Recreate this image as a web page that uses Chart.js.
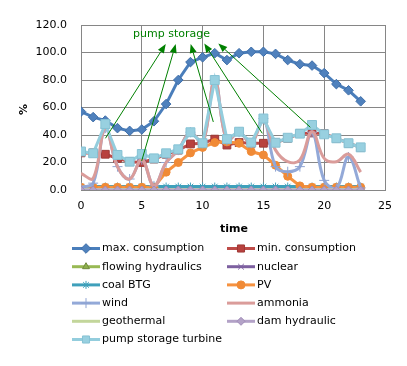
<!DOCTYPE html>
<html>
<head>
<meta charset="utf-8">
<script src="https://cdn.jsdelivr.net/npm/chart.js@4.4.0/dist/chart.umd.min.js"></script>
<style>
  html, body { margin: 0; padding: 0; background: #fff; }
  canvas { display: block; }
</style>
</head>
<body>
<canvas id="chart" width="407" height="366"></canvas>
<script>
// hours of the day
const hours = [0, 1, 2, 3, 4, 5, 6, 7, 8, 9, 10, 11, 12, 13, 14, 15, 16, 17, 18, 19, 20, 21, 22, 23];

// series values (%)
const maxConsumption = [57, 53, 50.5, 45, 43, 44, 50, 62.5, 80, 93, 96.5, 99.5, 94.5, 99.5, 100.5, 100.5, 99, 94.5, 91.5, 90.5, 85, 77, 72.5, 64.5];
const minConsumption = [27, 27, 26, 23, 20.6, 20, 22.5, 26, 29, 33.5, 34, 37, 32.7, 34.5, 34, 34, 34.4, 37.6, 41, 41.5, 41, 37.6, 34, 31];
const flowingHydraulics = [0.5, 0.5, 0.5, 0.5, 0.5, 0.5, 0.5, 0.5, 0.5, 0.5, 0.5, 0.5, 0.5, 0.5, 0.5, 0.5, 0.5, 0.5, 0.5, 0.5, 0.5, 0.5, 0.5, 0.5];
const nuclear = [0, 0, 0, 0, 0, 0, 0, 0, 0, 0, 0, 0, 0, 0, 0, 0, 0, 0, 0, 0, 0, 0, 0, 0];
const coalBTG = [2.5, 2.5, 2.5, 2.5, 2.5, 2.5, 2.5, 2.5, 2.5, 2.5, 2.5, 2.5, 2.5, 2.5, 2.5, 2.5, 2.5, 2.5, 2.5, 2.5, 2.5, 2.5, 2.5, 2.5];
const pv = [2, 2, 2, 2, 2, 2, 2, 13, 20, 27, 31, 34.5, 35, 34, 28, 25.5, 18, 10, 3, 2, 2, 2, 2, 2];
const wind = [2, 5, 45, 17, 8, 22, 3, 20, 29, 42, 34, 80, 36, 42, 34, 52, 17, 13.3, 17, 42, 7, 1, 24, 1.5];
const ammonia = [12, 8.5, 45, 17, 8, 22, 3, 20, 29, 42, 34, 80, 36, 42, 34, 50, 29, 20.6, 21.8, 42.4, 23, 20.6, 26, 13];
const geothermal = [0.3, 0.3, 0.3, 0.3, 0.3, 0.3, 0.3, 0.3, 0.3, 0.3, 0.3, 0.3, 0.3, 0.3, 0.3, 0.3, 0.3, 0.3, 0.3, 0.3, 0.3, 0.3, 0.3, 0.3];
const damHydraulic = [0, 0, 0, 0, 0, 0, 0, 0, 0, 0, 0, 0, 0, 0, 0, 0, 0, 0, 0, 0, 0, 0, 0, 0];
const pumpStorageTurbine = [28, 26.7, 48, 25.5, 20.6, 26.2, 23, 26.7, 29.6, 42, 34, 80, 37, 42.4, 34.5, 52, 34.4, 38, 41, 47.3, 40.5, 37.6, 34, 31];

// y tick labels
const yTicks = [0, 20, 40, 60, 80, 100, 120];

// "pump storage" callout (data units)
const calloutText = 'pump storage';
const calloutAt = [7.44, 113];
const arrowFromX = [2.01, 4.99, 10.88, 14.91, 18.86];
const arrowFromY = [37.6, 21.1, 49.5, 41.2, 45.6];
const arrowToX = [6.97, 7.79, 9.02, 10.14, 11.29];
const arrowToY = [106.2, 106.2, 106.2, 106.6, 106.6];

const FONT = "'DejaVu Sans', sans-serif";

function pts(values) {
    return values.map((v, i) => ({ x: hours[i], y: v }));
}

// label, values, line colour, marker style, radius, fill, border, tension
const seriesDefs = [
    ['max. consumption', maxConsumption, '#4A7EBB', 'rectRot', 4.8, '#4F81BD', '#3F6EA8', 0],
    ['min. consumption', minConsumption, '#BE4B48', 'rect', 5.5, '#B8413E', '#9E3936', 0],
    ['flowing hydraulics', flowingHydraulics, '#98B954', 'triangle', 4, '#8DB04B', '#71893F', 0],
    ['nuclear', nuclear, '#7D60A0', 'crossRot', 4, '#8064A2', '#7D60A0', 0],
    ['coal BTG', coalBTG, '#3FA0BB', 'star', 4, '#4BACC6', '#3FA0BB', 0],
    ['PV', pv, '#F69240', 'circle', 4, '#F08A36', '#F08A36', 0],
    ['wind', wind, '#93A9D8', 'cross', 5, '#93A9D8', '#8EA3D2', 0.4],
    ['ammonia', ammonia, '#DA9C9A', false, 0, '#DA9C9A', '#DA9C9A', 0.4],
    ['geothermal', geothermal, '#C3D69B', false, 0, '#C3D69B', '#C3D69B', 0],
    ['dam hydraulic', damHydraulic, '#B3A2C7', 'rectRot', 4, '#B3A2C7', '#A08CB8', 0],
    ['pump storage turbine', pumpStorageTurbine, '#93CDDD', 'rect', 6.3, '#98D0E0', '#86C2D4', 0]
];

const datasets = seriesDefs.map((s, i) => ({
    label: s[0],
    data: pts(s[1]),
    borderColor: s[2],
    backgroundColor: s[5],
    borderWidth: 3,
    pointStyle: s[3],
    pointRadius: s[4],
    pointBackgroundColor: s[5],
    pointBorderColor: s[6],
    pointBorderWidth: 1,
    tension: s[7],
    order: seriesDefs.length - i   // later series drawn on top, like the original
}));

/**
 * Draws the callout, axis titles and a two column legend
 */
const extrasPlugin = {
    id: 'extras',
    afterDatasetsDraw(chart) {
        const ctx = chart.ctx;
        const xs = chart.scales.x;
        const ys = chart.scales.y;
        ctx.save();
        ctx.strokeStyle = '#008000';
        ctx.fillStyle = '#008000';
        ctx.lineWidth = 1;
        for (let i = 0; i < arrowFromX.length; i++) {
            const x1 = xs.getPixelForValue(arrowFromX[i]);
            const y1 = ys.getPixelForValue(arrowFromY[i]);
            const x2 = xs.getPixelForValue(arrowToX[i]);
            const y2 = ys.getPixelForValue(arrowToY[i]);
            const ang = Math.atan2(y2 - y1, x2 - x1);
            const len = 9, half = 3.5;
            const bx = x2 - len * Math.cos(ang);
            const by = y2 - len * Math.sin(ang);
            ctx.beginPath();
            ctx.moveTo(x1, y1);
            ctx.lineTo(bx, by);
            ctx.stroke();
            ctx.beginPath();
            ctx.moveTo(x2, y2);
            ctx.lineTo(bx + half * Math.sin(ang), by - half * Math.cos(ang));
            ctx.lineTo(bx - half * Math.sin(ang), by + half * Math.cos(ang));
            ctx.closePath();
            ctx.fill();
        }
        ctx.font = '11px ' + FONT;
        ctx.textAlign = 'center';
        ctx.textBaseline = 'middle';
        ctx.fillText(calloutText, xs.getPixelForValue(calloutAt[0]), ys.getPixelForValue(calloutAt[1]));
        ctx.restore();
    },
    afterDraw(chart) {
        const ctx = chart.ctx;
        const area = chart.chartArea;
        ctx.save();
        ctx.fillStyle = '#000';
        ctx.textBaseline = 'middle';

        // axis titles
        ctx.font = 'bold 11px ' + FONT;
        ctx.textAlign = 'center';
        ctx.fillText('time', (area.left + area.right) / 2 + 1, 229);
        ctx.save();
        ctx.translate(24, (area.top + area.bottom) / 2 + 2);
        ctx.rotate(-Math.PI / 2);
        ctx.fillText('%', 0, 0);
        ctx.restore();

        // legend
        ctx.font = '11px ' + FONT;
        ctx.textAlign = 'left';
        chart.data.datasets.forEach((ds, i) => {
            const col = i % 2;
            const row = Math.floor(i / 2);
            const x0 = col ? 227 : 72;
            const y = 248.5 + row * 18.2;
            ctx.strokeStyle = ds.borderColor;
            ctx.lineWidth = 3;
            ctx.beginPath();
            ctx.moveTo(x0, y);
            ctx.lineTo(x0 + 28, y);
            ctx.stroke();
            if (ds.pointStyle && Chart.helpers && Chart.helpers.drawPoint) {
                ctx.fillStyle = ds.pointBackgroundColor;
                ctx.strokeStyle = ds.pointBorderColor;
                ctx.lineWidth = 1;
                Chart.helpers.drawPoint(ctx, {
                    pointStyle: ds.pointStyle,
                    radius: Math.min(ds.pointRadius, 5),
                    rotation: 0,
                    borderWidth: 1
                }, x0 + 14, y);
            }
            ctx.fillStyle = '#000';
            ctx.fillText(ds.label, x0 + 30, y);
        });
        ctx.restore();
    }
};

const gridColor = '#868686';

new Chart(document.getElementById('chart'), {
    type: 'line',
    data: { datasets: datasets },
    options: {
        responsive: false,
        animation: false,
        layout: { padding: { top: 25, right: 22, left: 0, bottom: 0 } },
        plugins: {
            legend: { display: false },
            tooltip: { enabled: false }
        },
        scales: {
            x: {
                type: 'linear',
                min: 0,
                max: 25,
                afterFit: (s) => { s.height = 176; },
                ticks: {
                    stepSize: 5,
                    padding: 10,
                    color: '#000',
                    font: { family: FONT, size: 11 }
                },
                grid: { color: gridColor, drawTicks: false },
                border: { color: gridColor }
            },
            y: {
                min: 0,
                max: 120,
                afterFit: (s) => { s.width = 81; },
                afterBuildTicks: (s) => { s.ticks = yTicks.map(v => ({ value: v })); },
                ticks: {
                    padding: 14,
                    color: '#000',
                    font: { family: FONT, size: 11 },
                    callback: (v) => Number(v).toFixed(1)
                },
                grid: { color: gridColor, drawTicks: false },
                border: { color: gridColor }
            }
        }
    },
    plugins: [extrasPlugin]
});
</script>
</body>
</html>
